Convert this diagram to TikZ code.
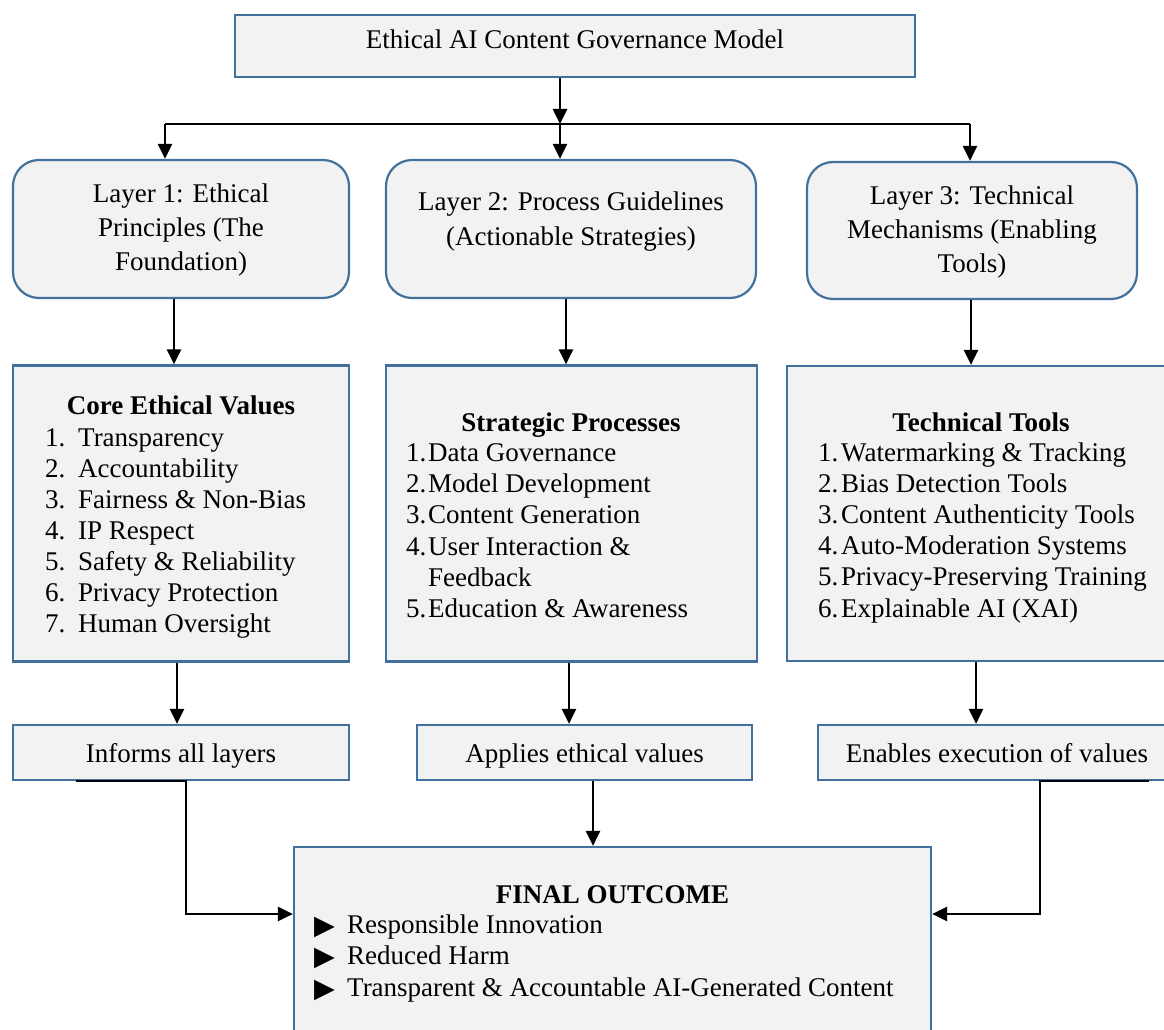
\documentclass[tikz,border=0pt]{standalone}
\usepackage{fontspec}
\setmainfont{Liberation Serif}
\newfontfamily\symfont{DejaVu Sans}
\usetikzlibrary{arrows.meta}
\definecolor{boxborder}{HTML}{41719C}
\definecolor{boxfill}{HTML}{F2F2F2}
\begin{document}
\begin{tikzpicture}[x=1pt,y=-1pt,
  box/.style={draw=boxborder,fill=boxfill,line width=2.2pt,inner sep=0pt},
  rbox/.style={box,rounded corners=26pt},
  arr/.style={line width=2.6pt,-{Triangle[length=15pt,width=14pt]}},
  feed/.style={line width=1.7pt},
  txt/.style={inner sep=0pt,font=\fontsize{27}{31}\selectfont,anchor=base},
  ltxt/.style={txt,anchor=base west},
  btxt/.style={txt,font=\fontsize{27}{31}\selectfont\bfseries},
  bul/.style={inner sep=0pt,anchor=base west,font=\symfont\fontsize{27}{27}\selectfont}]
\clip (0,0) rectangle (1164,1030);
\fill[white] (0,0) rectangle (1164,1030);

% ---- boxes ----
\node[box,minimum width=680pt,minimum height=62pt] (title) at (575,46) {};
\node[rbox,minimum width=336pt,minimum height=138pt] (L1) at (181,229) {};
\node[rbox,minimum width=370pt,minimum height=138pt] (L2) at (571,229) {};
\node[rbox,minimum width=330pt,minimum height=137pt] (L3) at (972,230.5) {};
\node[box,minimum width=336pt,minimum height=296pt] (core) at (181,513.5) {};
\node[box,minimum width=371pt,minimum height=296pt] (strat) at (571.5,513.5) {};
\node[box,minimum width=393pt,minimum height=295pt] (tech) at (983.5,513.5) {};
\node[box,minimum width=336pt,minimum height=55pt] (inf) at (181,752.5) {};
\node[box,minimum width=335pt,minimum height=55pt] (app) at (584.5,752.5) {};
\node[box,minimum width=362pt,minimum height=55pt] (ena) at (999,752.5) {};
\node[box,minimum width=637pt,minimum height=203pt] (final) at (612.5,948.5) {};

% ---- texts ----
\node[txt] (t0) at (575,49) {Ethical AI Content Governance Model};

\node[txt] (t1a) at (181,202) {Layer 1: Ethical};
\node[txt] (t1b) at (181,236) {Principles (The};
\node[txt] (t1c) at (181,270) {Foundation)};

\node[txt] (t2a) at (571,210) {Layer 2: Process Guidelines};
\node[txt] (t2b) at (571,245) {(Actionable Strategies)};

\node[txt] (t3a) at (972,204) {Layer 3: Technical};
\node[txt] (t3b) at (972,238) {Mechanisms (Enabling};
\node[txt] (t3c) at (972,272) {Tools)};

\node[btxt] (ch) at (181,414) {Core Ethical Values};
\foreach \n/\t [count=\i from 0] in {1/Transparency,2/Accountability,3/Fairness \& Non-Bias,4/IP Respect,5/Safety \& Reliability,6/Privacy Protection,7/Human Oversight}{
  \node[ltxt] (cn\n) at (45,446+31*\i) {\n.};
  \node[ltxt] (ct\n) at (78,446+31*\i) {\t};
}

\node[btxt] (sh) at (571,431) {Strategic Processes};
\node[ltxt] (sn1) at (406,461) {1.};
\node[ltxt] (st1) at (428,461) {Data Governance};
\node[ltxt] (sn2) at (406,492.5) {2.};
\node[ltxt] (st2) at (428,492.5) {Model Development};
\node[ltxt] (sn3) at (406,523.5) {3.};
\node[ltxt] (st3) at (428,523.5) {Content Generation};
\node[ltxt] (sn4) at (406,555) {4.};
\node[ltxt] (st4) at (428,555) {User Interaction \&};
\node[ltxt] (st4b) at (428,586) {Feedback};
\node[ltxt] (sn5) at (406,617) {5.};
\node[ltxt] (st5) at (428,617) {Education \& Awareness};

\node[btxt] (th) at (981,431) {Technical Tools};
\foreach \n/\t [count=\i from 0] in {1/Watermarking \& Tracking,2/Bias Detection Tools,3/Content Authenticity Tools,4/Auto-Moderation Systems,5/Privacy-Preserving Training,6/Explainable AI (XAI)}{
  \node[ltxt] (tn\n) at (818,461+31.2*\i) {\n.};
  \node[ltxt] (tt\n) at (841,461+31.2*\i) {\t};
}

\node[txt] (it) at (181,762) {Informs all layers};
\node[txt] (at) at (584.5,762) {Applies ethical values};
\node[txt] (et) at (997,762) {Enables execution of values};

\node[btxt] (fh) at (612.5,903) {FINAL OUTCOME};
\node[bul] (fb1) at (314,934) {▶};
\node[ltxt] (ft1) at (347,933) {Responsible Innovation};
\node[bul] (fb2) at (314,965) {▶};
\node[ltxt] (ft2) at (347,964) {Reduced Harm};
\node[bul] (fb3) at (314,997) {▶};
\node[ltxt] (ft3) at (347,996) {Transparent \& Accountable AI-Generated Content};

% ---- connectors ----
\coordinate (j0) at (560,124);
\coordinate (jL) at (165,124);
\coordinate (jR) at (970,124);
\draw[arr] (title.south -| j0) -- (j0);
\draw[feed] (jL) -- (jR);
\draw[arr] (jL) -- (jL |- L1.north);
\draw[arr] (j0) -- (j0 |- L2.north);
\draw[arr] (jR) -- (jR |- L3.north);

\coordinate (a1) at (174,0);
\coordinate (a2) at (566,0);
\coordinate (a3) at (971,0);
\draw[arr] (L1.south -| a1) -- (core.north -| a1);
\draw[arr] (L2.south -| a2) -- (strat.north -| a2);
\draw[arr] (L3.south -| a3) -- (tech.north -| a3);

\coordinate (b1) at (177,0);
\coordinate (b2) at (569,0);
\coordinate (b3) at (976,0);
\draw[arr] (core.south -| b1) -- (inf.north -| b1);
\draw[arr] (strat.south -| b2) -- (app.north -| b2);
\draw[arr] (tech.south -| b3) -- (ena.north -| b3);

\coordinate (k1) at (186,914);
\coordinate (k2) at (593,0);
\coordinate (k3) at (1040,914);
\draw[arr,line join=miter] ([xshift=64pt]inf.south west) -- (inf.south -| k1) -- (k1) -- (final.west |- k1);
\draw[arr] (app.south -| k2) -- (final.north -| k2);
\draw[arr,line join=miter] ([xshift=-32pt]ena.south east) -- (ena.south -| k3) -- (k3) -- (final.east |- k3);
\end{tikzpicture}
\end{document}
